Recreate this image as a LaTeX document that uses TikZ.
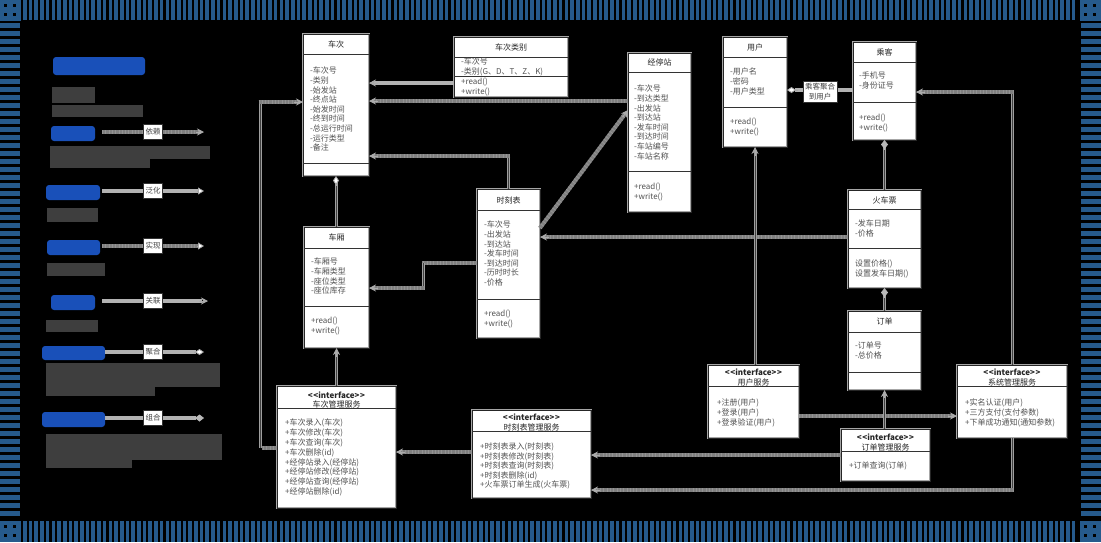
\documentclass[tikz,border=0pt]{standalone}
\usepackage{fontspec}
\newfontfamily\cjk{Noto Sans CJK SC}
\usetikzlibrary{arrows.meta,calc}
\definecolor{bandblue}{RGB}{38,90,140}
\definecolor{legblue}{RGB}{25,80,185}
\definecolor{leggray}{RGB}{62,62,62}
\newcommand\ubox[5]{\node[box,minimum width={#4-#2},minimum height={#5-#3}] (#1) at (#2,#3) {};}
\newcommand\usep[2]{\draw[sepl] (#1.west |- 0,#2) -- (#1.east |- 0,#2);}
\begin{document}
\begin{tikzpicture}[x=1pt,y=-1pt,
  box/.style={draw=gray!70, double=black!85, double distance=0.9pt, line width=0.55pt, fill=white, inner sep=0pt, outer sep=0pt, anchor=north west},
  sepl/.style={draw=black!80, line width=0.8pt},
  ttl/.style={font=\cjk\fontsize{8}{9}\selectfont, text=black!85, inner sep=0pt},
  itf/.style={font=\cjk\bfseries\fontsize{8}{9}\selectfont, text=black!85, inner sep=0pt},
  txt/.style={font=\cjk\fontsize{8}{9.6}\selectfont, text=black!68, align=left, inner sep=0pt, anchor=north west},
  vline/.style={draw=gray!75, line width=3pt, postaction={draw=black!75, line width=0.9pt}},
  dline/.style={draw=black!50, line width=4pt, postaction={draw=gray!85, line width=4pt, dash pattern=on 0.9pt off 2.4pt}},
  sline/.style={draw=gray!60, line width=3.5pt},
  tipS/.style={draw=gray!65, line width=0.8pt, -{Stealth[length=7pt,width=7pt,fill=gray!65]}},
  tipDo/.style={draw=gray!70, line width=0.8pt, -{Diamond[length=9pt,width=6pt,fill=white]}},
  tipDf/.style={draw=gray!55, line width=0.8pt, -{Diamond[length=9pt,width=7pt,fill=gray!55]}},
  tipT/.style={draw=gray!70, line width=0.8pt, -{Triangle[length=6pt,width=7pt,fill=white]}},
  lbl/.style={fill=white, draw=black!80, line width=0.6pt, font=\cjk\fontsize{7.5}{9.6}\selectfont, align=center, inner sep=2pt, text=black!75},
  lgl/.style={fill=white, draw=black!80, line width=0.6pt, font=\cjk\fontsize{7.5}{9}\selectfont, inner sep=2pt, minimum height=15pt, text=black!75},
  blk/.style={fill=legblue, rounded corners=3pt},
  gblk/.style={fill=leggray}
]
\useasboundingbox (0,0) rectangle (1101,542);
\fill[black] (0,0) rectangle (1101,542);
% frame
\foreach \x in {23,28.7,...,1076} {\fill[bandblue] (\x,0) rectangle ++(3.6,20); \fill[bandblue] (\x,521) rectangle ++(3.6,21);}
\foreach \y in {23,31,...,516} {\fill[bandblue] (0,\y) rectangle ++(20,5); \fill[bandblue] (1081,\y) rectangle ++(20,5);}
\foreach \cx/\cy in {0/0,1080/0,0/521,1080/521} {
  \fill[bandblue] (\cx,\cy) rectangle ++(21,21);
  \foreach \dx/\dy in {4/4,13/4,4/13,13/13} {\fill[black] (\cx+\dx,\cy+\dy) rectangle ++(3,3);}
}
% legend blocks
\fill[blk] (53,57) rectangle (145,75);
\fill[gblk] (52,87) rectangle (95,103);
\fill[gblk] (52,105) rectangle (143,117);
\fill[blk] (51,126) rectangle (95,141);
\fill[gblk] (50,146) rectangle (210,159);
\fill[gblk] (50,159) rectangle (150,168);
\fill[blk] (46,185) rectangle (100,200);
\fill[gblk] (47,208) rectangle (98,222);
\fill[blk] (47,240) rectangle (100,255);
\fill[gblk] (47,263) rectangle (105,276);
\fill[blk] (51,295) rectangle (95,310);
\fill[gblk] (46,320) rectangle (98,332);
\fill[blk] (42,346) rectangle (105,360);
\fill[gblk] (46,363) rectangle (220,387);
\fill[gblk] (46,387) rectangle (155,396);
\fill[blk] (42,412) rectangle (105,427);
\fill[gblk] (46,434) rectangle (222,460);
\fill[gblk] (46,460) rectangle (132,468);
% legend lines
\coordinate (ls1) at (102,132); \coordinate (le1) at (204,132);
\coordinate (ls2) at (102,191); \coordinate (le2) at (204,191);
\coordinate (ls3) at (102,246); \coordinate (le3) at (204,246);
\coordinate (ls4) at (102,301); \coordinate (le4) at (208,301);
\coordinate (ls5) at (105,352); \coordinate (le5) at (204,352);
\coordinate (ls6) at (105,418); \coordinate (le6) at (204,418);
\draw[dline] (ls1) -- ([xshift=-6pt]le1); \draw[tipS] ([xshift=-8pt]le1) -- (le1);
\draw[sline] (ls2) -- ([xshift=-6pt]le2); \draw[tipT] ([xshift=-7pt]le2) -- (le2);
\draw[dline] (ls3) -- ([xshift=-6pt]le3); \draw[tipT] ([xshift=-7pt]le3) -- (le3);
\draw[sline] (ls4) -- ([xshift=-6pt]le4); \draw[tipS] ([xshift=-9pt]le4) -- (le4);
\draw[sline] (ls5) -- ([xshift=-8pt]le5); \draw[tipDo] ([xshift=-10pt]le5) -- (le5);
\draw[sline] (ls6) -- ([xshift=-8pt]le6); \draw[tipDf] ([xshift=-10pt]le6) -- (le6);
\node[lgl] (lg1) at (153,132) {依赖};
\node[lgl] (lg2) at (153,191) {泛化};
\node[lgl] (lg3) at (153,246) {实现};
\node[lgl] (lg4) at (153,301) {关联};
\node[lgl] (lg5) at (153,352) {聚合};
\node[lgl] (lg6) at (153,418) {组合};
% ===== boxes =====
% 车次
\ubox{cc}{303}{34}{369}{176}
\usep{cc}{54}\usep{cc}{163}
\node[ttl] at (cc.north |- 0,44) {车次};
\node[txt] at (310,67) {-车次号\\-类别\\-始发站\\-终点站\\-始发时间\\-终到时间\\-总运行时间\\-运行类型\\-备注};
% 车次类别
\ubox{cclb}{454}{37}{568}{97}
\usep{cclb}{57}\usep{cclb}{76}
\node[ttl] at (cclb.north |- 0,47) {车次类别};
\node[txt] at (461,58) {-车次号\\-类别(G、D、T、Z、K)};
\node[txt] at (461,78) {+read()\\+write()};
% 经停站
\ubox{jtz}{628}{53}{691}{212}
\usep{jtz}{72}\usep{jtz}{171}
\node[ttl] at (jtz.north |- 0,62.5) {经停站};
\node[txt] at (634,85) {-车次号\\-到达类型\\-出发站\\-到达站\\-发车时间\\-到达时间\\-车站编号\\-车站名称};
\node[txt] at (634,183) {+read()\\+write()};
% 用户
\ubox{yh}{723}{37}{787}{147}
\usep{yh}{57}\usep{yh}{107}
\node[ttl] at (yh.north |- 0,47) {用户};
\node[txt] at (730,68) {-用户名\\-密码\\-用户类型};
\node[txt] at (730,118) {+read()\\+write()};
% 乘客
\ubox{ck}{853}{42}{916}{140}
\usep{ck}{62}\usep{ck}{102}
\node[ttl] at (ck.north |- 0,52) {乘客};
\node[txt] at (859,72) {-手机号\\-身份证号};
\node[txt] at (859,114) {+read()\\+write()};
% 火车票
\ubox{hcp}{848}{190}{921}{288}
\usep{hcp}{209}\usep{hcp}{248}
\node[ttl] at (hcp.north |- 0,200) {火车票};
\node[txt] at (855,220) {-发车日期\\-价格};
\node[txt] at (855,260) {设置价格()\\设置发车日期()};
% 订单
\ubox{dd}{848}{311}{921}{390}
\usep{dd}{332}\usep{dd}{372}
\node[ttl] at (dd.north |- 0,321) {订单};
\node[txt] at (855,342) {-订单号\\-总价格};
% 时刻表
\ubox{skb}{477}{189}{540}{338}
\usep{skb}{210}\usep{skb}{299}
\node[ttl] at (skb.north |- 0,200) {时刻表};
\node[txt] at (484,221) {-车次号\\-出发站\\-到达站\\-发车时间\\-到达时间\\-历时时长\\-价格};
\node[txt] at (484,310) {+read()\\+write()};
% 车厢
\ubox{cx}{304}{227}{369}{348}
\usep{cx}{248}\usep{cx}{306}
\node[ttl] at (cx.north |- 0,237.5) {车厢};
\node[txt] at (311,258) {-车厢号\\-车厢类型\\-座位类型\\-座位库存};
\node[txt] at (311,317) {+read()\\+write()};
% 用户服务
\ubox{yhfw}{708}{365}{799}{438}
\usep{yhfw}{386}
\node[itf] at (yhfw.north |- 0,372) {<\kern0.6pt<interface>\kern0.6pt>};
\node[ttl] at (yhfw.north |- 0,382) {用户服务};
\node[txt] at (717,399) {+注册(用户)\\+登录(用户)\\+登录验证(用户)};
% 订单管理服务
\ubox{ddglfw}{841}{429}{930}{481}
\usep{ddglfw}{451}
\node[itf] at (ddglfw.north |- 0,437) {<\kern0.6pt<interface>\kern0.6pt>};
\node[ttl] at (ddglfw.north |- 0,447) {订单管理服务};
\node[txt] at (849,462) {+订单查询(订单)};
% 系统管理服务
\ubox{xtglfw}{957}{365}{1067}{438}
\usep{xtglfw}{386}
\node[itf] at (xtglfw.north |- 0,372) {<\kern0.6pt<interface>\kern0.6pt>};
\node[ttl] at (xtglfw.north |- 0,382) {系统管理服务};
\node[txt] at (965,399) {+实名认证(用户)\\+三方支付(支付参数)\\+下单成功通知(通知参数)};
% 车次管理服务
\ubox{ccglfw}{277}{386}{396}{508}
\usep{ccglfw}{408}
\node[itf] at (ccglfw.north |- 0,395) {<\kern0.6pt<interface>\kern0.6pt>};
\node[ttl] at (ccglfw.north |- 0,404) {车次管理服务};
\node[txt,font=\cjk\fontsize{8}{9.8}\selectfont] at (285,419) {+车次录入(车次)\\+车次修改(车次)\\+车次查询(车次)\\+车次删除(id)\\+经停站录入(经停站)\\+经停站修改(经停站)\\+经停站查询(经停站)\\+经停站删除(id)};
% 时刻表管理服务
\ubox{skbglfw}{472}{410}{591}{498}
\usep{skbglfw}{431}
\node[itf] at (skbglfw.north |- 0,417) {<\kern0.6pt<interface>\kern0.6pt>};
\node[ttl] at (skbglfw.north |- 0,427) {时刻表管理服务};
\node[txt,font=\cjk\fontsize{8}{9.5}\selectfont] at (480,443) {+时刻表录入(时刻表)\\+时刻表修改(时刻表)\\+时刻表查询(时刻表)\\+时刻表删除(id)\\+火车票订单生成(火车票)};
% ===== connectors =====
% 车次类别 -> 车次
\coordinate (a1) at (cclb.west |- 0,83); \coordinate (b1) at (cc.east |- 0,83);
\draw[sline] (a1) -- ([xshift=5pt]b1); \draw[tipS] ([xshift=9pt]b1) -- (b1);
% 经停站 -> 车次
\coordinate (a2) at (jtz.west |- 0,101); \coordinate (b2) at (cc.east |- 0,101);
\draw[dline] (a2) -- ([xshift=5pt]b2); \draw[tipS] ([xshift=9pt]b2) -- (b2);
% 时刻表 -> 车次
\coordinate (a3) at (skb.north); \coordinate (m3) at (skb.north |- 0,156); \coordinate (b3) at (cc.east |- 0,156);
\draw[vline] (a3) -- ([yshift=-2pt]m3); \draw[dline] ([xshift=1.5pt]m3) -- ([xshift=5pt]b3); \draw[tipS] ([xshift=9pt]b3) -- (b3);
% 时刻表 -> 经停站 (diagonal)
\coordinate (a4) at (skb.east |- 0,228); \coordinate (b4) at (jtz.west |- 0,110);
\draw[dline] (a4) -- ($(b4)!5pt!(a4)$); \draw[tipS] ($(b4)!9pt!(a4)$) -- (b4);
% 火车票 -> 时刻表
\coordinate (a5) at (hcp.west |- 0,237); \coordinate (b5) at (skb.east |- 0,237);
\draw[dline] (a5) -- ([xshift=5pt]b5); \draw[tipS] ([xshift=9pt]b5) -- (b5);
% 时刻表 -> 车厢
\coordinate (a6) at (skb.west |- 0,263); \coordinate (m6a) at (423,263); \coordinate (m6b) at (423,288); \coordinate (b6) at (cx.east |- 0,288);
\draw[dline] (a6) -- ([xshift=-1.5pt]m6a); \draw[vline] (m6a) -- (m6b); \draw[dline] ([xshift=1.5pt]m6b) -- ([xshift=5pt]b6); \draw[tipS] ([xshift=9pt]b6) -- (b6);
% 车次 <>- 车厢
\coordinate (a7) at (cc.south); \coordinate (b7) at (cc.south |- cx.north);
\draw[vline] ([yshift=-6pt]a7) -- (b7); \draw[tipDo] ([yshift=-10pt]a7) -- (a7);
% 车次管理服务 -> 车厢
\coordinate (a8) at (ccglfw.north); \coordinate (b8) at (ccglfw.north |- cx.south);
\draw[vline] (a8) -- ([yshift=-5pt]b8); \draw[tipS] ([yshift=-9pt]b8) -- (b8);
% 车次管理服务 -> 车次 (left loop)
\coordinate (a9) at (ccglfw.west |- 0,448); \coordinate (m9a) at (260,448); \coordinate (m9b) at (260,102); \coordinate (b9) at (cc.west |- 0,102);
\draw[dline] (a9) -- ([xshift=1.5pt]m9a); \draw[vline] (m9a) -- (m9b); \draw[dline] ([xshift=-1.5pt]m9b) -- ([xshift=-5pt]b9); \draw[tipS] ([xshift=-9pt]b9) -- (b9);
% 时刻表管理服务 -> 车次管理服务
\coordinate (a10) at (skbglfw.west |- 0,452); \coordinate (b10) at (ccglfw.east |- 0,452);
\draw[dline] (a10) -- ([xshift=5pt]b10); \draw[tipS] ([xshift=9pt]b10) -- (b10);
% 订单管理服务 -> 时刻表管理服务
\coordinate (a11) at (ddglfw.west |- 0,455); \coordinate (b11) at (skbglfw.east |- 0,455);
\draw[dline] (a11) -- ([xshift=5pt]b11); \draw[tipS] ([xshift=9pt]b11) -- (b11);
% 系统管理服务 -> 时刻表管理服务
\coordinate (a12) at (xtglfw.south -| 1012,0); \coordinate (m12) at (1012,490); \coordinate (b12) at (skbglfw.east |- 0,490);
\draw[vline] (a12) -- ([yshift=-2pt]m12); \draw[dline] ([xshift=1.5pt]m12) -- ([xshift=5pt]b12); \draw[tipS] ([xshift=9pt]b12) -- (b12);
% 用户服务 -> 系统管理服务
\coordinate (a13) at (yhfw.east |- 0,416); \coordinate (b13) at (xtglfw.west |- 0,416);
\draw[dline] (a13) -- ([xshift=-5pt]b13); \draw[tipS] ([xshift=-9pt]b13) -- (b13);
% 订单管理服务 -> 订单
\coordinate (a14) at (dd.south |- ddglfw.north); \coordinate (b14) at (dd.south);
\draw[vline] (a14) -- ([yshift=-5pt]b14); \draw[tipS] ([yshift=-8pt]b14) -- (b14);
% 火车票 <>- 订单
\coordinate (a15) at (hcp.south); \coordinate (b15) at (hcp.south |- dd.north);
\draw[vline] ([yshift=-6pt]a15) -- (b15); \draw[tipDf] ([yshift=-10pt]a15) -- (a15);
% 乘客 <>- 火车票
\coordinate (a16) at (ck.south); \coordinate (b16) at (ck.south |- hcp.north);
\draw[vline] ([yshift=-6pt]a16) -- (b16); \draw[tipDf] ([yshift=-10pt]a16) -- (a16);
% 用户服务 -> 用户
\coordinate (a17) at (yh.south |- yhfw.north); \coordinate (b17) at (yh.south);
\draw[vline] (a17) -- ([yshift=-5pt]b17); \draw[tipS] ([yshift=-9pt]b17) -- (b17);
% 系统管理服务 -> 乘客
\coordinate (a18) at (xtglfw.north -| 1012,0); \coordinate (m18) at (1012,92); \coordinate (b18) at (ck.east |- 0,92);
\draw[vline] (a18) -- ([yshift=2pt]m18); \draw[dline] ([xshift=1.5pt]m18) -- ([xshift=5pt]b18); \draw[tipS] ([xshift=9pt]b18) -- (b18);
% 用户 <>- 乘客
\coordinate (a19) at (yh.east |- 0,90); \coordinate (b19) at (ck.west |- 0,90);
\draw[sline] ([xshift=8pt]a19) -- (b19); \draw[tipDo] ([xshift=11pt]a19) -- (a19);
\node[lbl] (l19) at (820,91.5) {乘客聚合\\到用户};
\end{tikzpicture}
\end{document}
